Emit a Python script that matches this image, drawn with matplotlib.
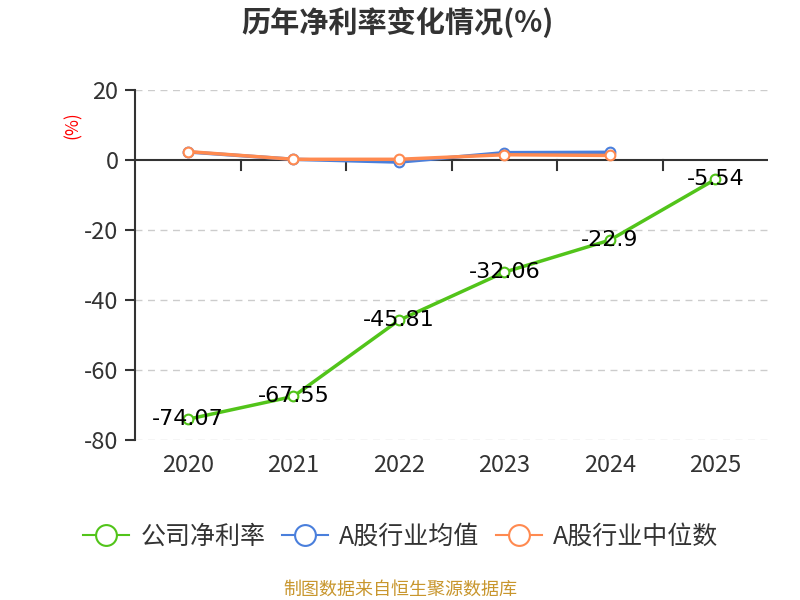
import matplotlib
matplotlib.use("Agg")
import matplotlib.pyplot as plt
from matplotlib.lines import Line2D

plt.rcParams['font.family'] = ['Noto Sans CJK SC', 'DejaVu Sans']

years = ['2020', '2021', '2022', '2023', '2024', '2025']
company = [-74.07, -67.55, -45.81, -32.06, -22.9, -5.54]
ind_avg = [2.3, 0.2, -0.6, 2.1, 2.2]
ind_med = [2.4, 0.2, 0.2, 1.5, 1.3]
yticks = [20, 0, -20, -40, -60, -80]

c_green = '#52c41a'
c_blue = '#4a7fdc'
c_orange = '#ff8a50'

fig = plt.figure(figsize=(8, 6), dpi=100)
ax = fig.add_axes([0.169, 0.2667, 0.791, 0.5833])

x = list(range(len(years)))
ax.set_xlim(-0.5, len(years) - 0.5)
ax.set_ylim(-80, 20)

for v in yticks:
    if v != 0:
        ax.axhline(v, color='#cccccc', lw=1, ls=(0, (5, 4)), zorder=0)
ax.axhline(0, color='#333333', lw=1.5, zorder=1)

ax.plot(x[:5], ind_avg, color=c_blue, lw=2.5, marker='o', ms=7,
        mfc='white', mec=c_blue, mew=1.5, zorder=3)
ax.plot(x[:5], ind_med, color=c_orange, lw=2.5, marker='o', ms=7,
        mfc='white', mec=c_orange, mew=1.5, zorder=4)
ax.plot(x, company, color=c_green, lw=2.5, marker='o', ms=7,
        mfc='white', mec=c_green, mew=1.5, zorder=5)

for xi, v in zip(x, company):
    ax.text(xi, v, f'{v:g}', ha='center', va='center', fontsize=16,
            color='black', zorder=6, family=['DejaVu Sans'])

for s in ['top', 'right', 'bottom']:
    ax.spines[s].set_visible(False)
ax.spines['left'].set_color('#333333')
ax.spines['left'].set_linewidth(1.5)

ax.set_yticks(yticks)
ax.set_yticklabels([str(v) for v in yticks], fontsize=17, color='#333333')
ax.tick_params(axis='y', length=7, width=1.5, color='#333333', pad=5)

ax.set_xticks(x)
ax.set_xticklabels(years, fontsize=17, color='#333333')
ax.tick_params(axis='x', length=0, pad=10)
# boundary ticks hanging from zero line
bx = [i + 0.5 for i in range(len(years) - 1)]
ax.plot([bx, bx], [[0] * len(bx), [-3] * len(bx)], color='#333333', lw=1.5, zorder=1)

ax.text(-0.098, 0.9, '(%)', transform=ax.transAxes, rotation=90, color='red',
        fontsize=12.5, ha='center', va='center')

fig.text(0.497, 0.962, '历年净利率变化情况(%)', ha='center', va='center',
         fontsize=21, fontweight='bold', color='#333333')

handles = [
    Line2D([0], [0], color=c_green, lw=1.5, marker='o', ms=15, mfc='white', mec=c_green, mew=1.5),
    Line2D([0], [0], color=c_blue, lw=1.5, marker='o', ms=15, mfc='white', mec=c_blue, mew=1.5),
    Line2D([0], [0], color=c_orange, lw=1.5, marker='o', ms=15, mfc='white', mec=c_orange, mew=1.5),
]
fig.legend(handles, ['公司净利率', 'A股行业均值', 'A股行业中位数'], loc='center',
           bbox_to_anchor=(0.501, 0.105), ncol=3, frameon=False, fontsize=18,
           handlelength=1.85, columnspacing=0.65, handletextpad=0.45,
           labelcolor='#333333')

fig.text(0.5, 0.017, '制图数据来自恒生聚源数据库', ha='center', va='center',
         fontsize=13, color='#c8962d')

fig.savefig('out.png', dpi=100)
